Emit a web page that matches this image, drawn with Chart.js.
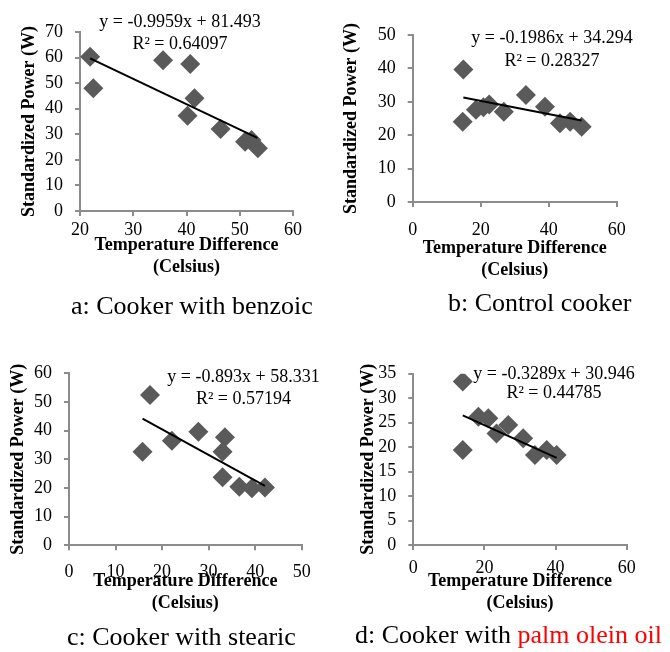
<!DOCTYPE html>
<html>
<head>
<meta charset="utf-8">
<script src="https://cdn.jsdelivr.net/npm/chart.js@4.4.1/dist/chart.umd.min.js"></script>
<style>
	html, body { margin: 0; padding: 0; background: #fff; }
	#page { position: relative; width: 670px; height: 652px; overflow: hidden; font-family: 'Liberation Serif', 'Times New Roman', serif; }
	#page canvas { position: absolute; }
	.eq { position: absolute; font-family: 'Liberation Serif', 'Times New Roman', serif; font-size: 18px; line-height: 22px; white-space: nowrap; transform: translateX(-50%); color: #000; }
	.cap { position: absolute; font-family: 'Liberation Serif', 'Times New Roman', serif; font-size: 26px; line-height: 26px; white-space: nowrap; color: #000; }
	.red { color: #ff0000; }
</style>
</head>
<body>
<div id="page"></div>
<script>
(function () {
	'use strict';

	var FONT = "'Liberation Serif', 'Times New Roman', serif";
	var AXIS = '#8c8c8c';
	var MARK = '#5a5a5a';

	// a: Cooker with benzoic
	var benzoicTemp   = [21.9, 22.5, 35.6, 40.7, 41.5, 40.2, 46.4, 51.0, 52.2, 53.4];
	var benzoicPower  = [60.3, 48.0, 59.0, 57.5, 44.1, 37.2, 32.1, 27.1, 27.8, 24.5];
	var benzoicFitX   = [21.9, 53.3];
	var benzoicFitY   = [59.7, 28.6];
	var benzoicXTicks = [20, 30, 40, 50, 60];
	var benzoicYTicks = [0, 10, 20, 30, 40, 50, 60, 70];

	// b: Control cooker
	var controlTemp   = [14.9, 14.7, 18.6, 20.8, 22.5, 26.8, 33.3, 38.9, 43.3, 46.3, 49.7];
	var controlPower  = [39.7, 24.0, 27.6, 28.4, 29.2, 27.0, 32.0, 28.5, 23.6, 24.0, 22.5];
	var controlFitX   = [14.9, 49.7];
	var controlFitY   = [31.3, 24.4];
	var controlXTicks = [0, 20, 40, 60];
	var controlYTicks = [0, 10, 20, 30, 40, 50];

	// c: Cooker with stearic
	var stearicTemp   = [15.8, 17.4, 22.1, 27.8, 33.5, 33.0, 33.0, 36.6, 39.3, 42.1];
	var stearicPower  = [32.6, 52.4, 36.5, 39.6, 37.7, 32.6, 23.7, 20.4, 19.9, 20.2];
	var stearicFitX   = [15.8, 42.1];
	var stearicFitY   = [44.2, 20.7];
	var stearicXTicks = [0, 10, 20, 30, 40, 50];
	var stearicYTicks = [0, 10, 20, 30, 40, 50, 60];

	// d: Cooker with palm olein oil
	var palmTemp   = [13.9, 13.9, 18.3, 21.1, 23.4, 26.7, 30.9, 34.2, 37.5, 40.3];
	var palmPower  = [33.4, 19.4, 26.2, 25.9, 22.8, 24.5, 21.8, 18.4, 19.4, 18.4];
	var palmFitX   = [13.9, 40.3];
	var palmFitY   = [26.5, 17.8];
	var palmXTicks = [0, 20, 40, 60];
	var palmYTicks = [0, 5, 10, 15, 20, 25, 30, 35];

	var equations = [
		['y = -0.9959x + 81.493', 'R\u00b2 = 0.64097'],
		['y = -0.1986x + 34.294', 'R\u00b2 = 0.28327'],
		['y = -0.893x + 58.331', 'R\u00b2 = 0.57194'],
		['y = -0.3289x + 30.946', 'R\u00b2 = 0.44785']
	];

	function pts(xs, ys) {
		return xs.map(function (x, i) { return { x: x, y: ys[i] }; });
	}

	function fixTicks(list) {
		return function (scale) {
			scale.ticks = list.map(function (v) { return { value: v }; });
		};
	}

	var page = document.getElementById('page');
	var TITLE_LH = 22;

	// Layout of each panel in page pixels (quadrant origin, plot box, title spots).
	var panels = [
		{ ox: 0,   oy: 0,   l: 80,    r: 293,   t: 32,    b: 211,  yTitleX: 29,    xTitleY: 245,   xPad: 3,
			temp: benzoicTemp, power: benzoicPower, fitX: benzoicFitX, fitY: benzoicFitY, xt: benzoicXTicks, yt: benzoicYTicks,
			eq: equations[0], eqX: 180, eqY: [21, 43] },
		{ ox: 335, oy: 0,   l: 412.7, r: 616.7, t: 35,    b: 202,  yTitleX: 351.7, xTitleY: 248.3, xPad: 12,
			temp: controlTemp, power: controlPower, fitX: controlFitX, fitY: controlFitY, xt: controlXTicks, yt: controlYTicks,
			eq: equations[1], eqX: 552, eqY: [37, 59.5] },
		{ ox: 0,   oy: 326, l: 69,    r: 301.7, t: 373.3, b: 545.3, yTitleX: 18.3, xTitleY: 581,   xPad: 11.6,
			temp: stearicTemp, power: stearicPower, fitX: stearicFitX, fitY: stearicFitY, xt: stearicXTicks, yt: stearicYTicks,
			eq: equations[2], eqX: 243.5, eqY: [376, 397.7] },
		{ ox: 335, oy: 326, l: 413.3, r: 626.7, t: 373.7, b: 545,  yTitleX: 368.3, xTitleY: 581,   xPad: 7,
			temp: palmTemp, power: palmPower, fitX: palmFitX, fitY: palmFitY, xt: palmXTicks, yt: palmYTicks,
			eq: equations[3], eqX: 554, eqY: [372.7, 392] }
	];

	function makePanel(p) {
		var W = 335, H = 326;
		var canvas = document.createElement('canvas');
		canvas.width = W;
		canvas.height = H;
		canvas.style.left = p.ox + 'px';
		canvas.style.top = p.oy + 'px';
		canvas.style.width = W + 'px';
		canvas.style.height = H + 'px';
		page.appendChild(canvas);

		var yLeft = p.yTitleX - TITLE_LH / 2;
		var yWidth = p.l - yLeft;
		var xBottom = p.xTitleY + TITLE_LH * 1.5;
		var xHeight = xBottom - p.b;

		var tickFont = { family: FONT, size: 18 };
		var titleFont = { family: FONT, size: 18, weight: 'bold', lineHeight: TITLE_LH / 18 };

		new Chart(canvas, {
			type: 'scatter',
			data: {
				datasets: [{
					type: 'line',
					data: pts(p.fitX, p.fitY),
					borderColor: '#000',
					borderWidth: 2,
					pointRadius: 0,
					fill: false
				}, {
					data: pts(p.temp, p.power),
					pointStyle: 'rectRot',
					pointRadius: 10,
					pointBackgroundColor: MARK,
					pointBorderWidth: 0
				}]
			},
			options: {
				responsive: false,
				animation: false,
				events: [],
				layout: {
					padding: {
						left: yLeft - p.ox,
						top: p.t - p.oy,
						right: p.ox + W - p.r,
						bottom: p.oy + H - xBottom
					}
				},
				plugins: { legend: { display: false }, tooltip: { enabled: false } },
				scales: {
					x: {
						type: 'linear',
						min: p.xt[0],
						max: p.xt[p.xt.length - 1],
						afterBuildTicks: fixTicks(p.xt),
						afterFit: function (s) { s.height = xHeight; },
						ticks: { font: tickFont, color: '#000', padding: p.xPad, maxRotation: 0, autoSkip: false },
						grid: { drawOnChartArea: false, tickLength: 5, color: AXIS, lineWidth: 2 },
						border: { color: AXIS, width: 2 },
						title: { display: true, text: ['Temperature Difference', '(Celsius)'], font: titleFont, color: '#000', padding: 0 }
					},
					y: {
						type: 'linear',
						min: p.yt[0],
						max: p.yt[p.yt.length - 1],
						afterBuildTicks: fixTicks(p.yt),
						afterFit: function (s) { s.width = yWidth; },
						ticks: { font: tickFont, color: '#000', padding: 12, autoSkip: false },
						grid: { drawOnChartArea: false, tickLength: 5, color: AXIS, lineWidth: 2 },
						border: { color: AXIS, width: 2 },
						title: { display: true, text: 'Standardized Power (W)', font: titleFont, color: '#000', padding: 0 }
					}
				}
			}
		});

		p.eq.forEach(function (line, i) {
			var d = document.createElement('div');
			d.className = 'eq';
			d.textContent = line;
			d.style.left = p.eqX + 'px';
			d.style.top = (p.eqY[i] - 11) + 'px';
			page.appendChild(d);
		});
	}

	panels.forEach(makePanel);

	// captions (left, baseline)
	function caption(html, left, baseline) {
		var d = document.createElement('div');
		d.className = 'cap';
		d.innerHTML = html;
		d.style.left = left + 'px';
		d.style.top = (baseline - 22) + 'px';
		page.appendChild(d);
	}
	caption('a: Cooker with benzoic', 71, 315);
	caption('b: Control cooker', 448, 312);
	caption('c: Cooker with stearic', 67, 646);
	caption('d: Cooker with <span class="red">palm olein oil</span>', 355, 644);
})();
</script>
</body>
</html>
